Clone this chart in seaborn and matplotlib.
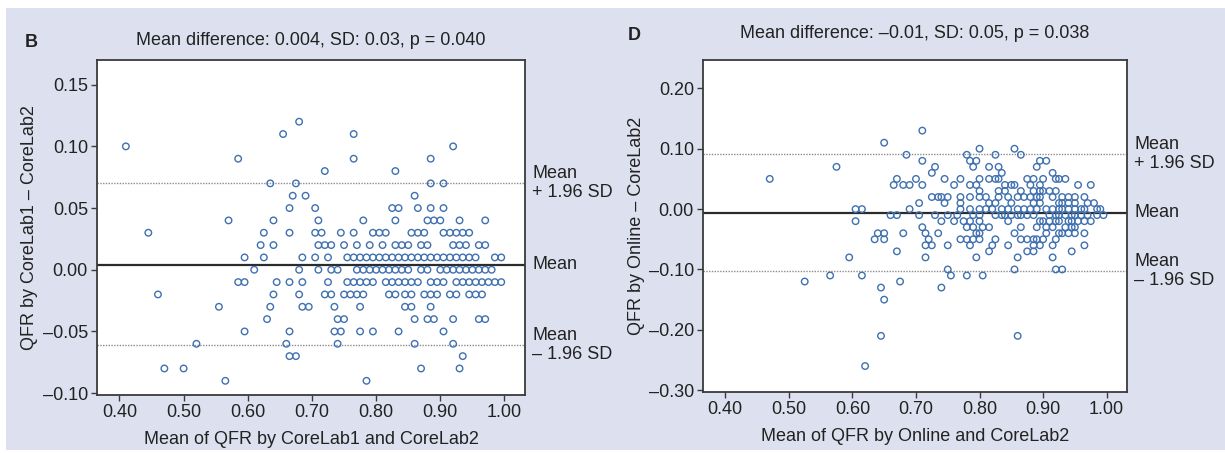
import matplotlib
matplotlib.use("Agg")
import matplotlib.pyplot as plt
import matplotlib.transforms as mtransforms
from matplotlib.patches import Rectangle
import numpy as np
import pandas as pd
import seaborn as sns

# ---- panel B: CoreLab1 vs CoreLab2 (difference level -> mean QFR values) ----
b_levels = [0.12, 0.11, 0.10, 0.09, 0.08, 0.07, 0.06, 0.05, 0.04, 0.03, 0.02, 0.01,
            0.00, -0.01, -0.02, -0.03, -0.04, -0.05, -0.06, -0.07, -0.08, -0.09]
b_means = [
    [0.68],
    [0.655, 0.765],
    [0.41, 0.92],
    [0.585, 0.765, 0.885],
    [0.72, 0.83],
    [0.635, 0.675, 0.885, 0.905],
    [0.67, 0.69, 0.86],
    [0.665, 0.705, 0.825, 0.835, 0.865, 0.885, 0.905],
    [0.57, 0.64, 0.71, 0.78, 0.83, 0.88, 0.89, 0.90, 0.93, 0.97],
    [0.445, 0.625, 0.665, 0.705, 0.715, 0.745, 0.765, 0.795, 0.805, 0.815, 0.855,
     0.865, 0.875, 0.905, 0.915, 0.925, 0.935, 0.945],
    [0.62, 0.64, 0.71, 0.72, 0.73, 0.75, 0.77, 0.79, 0.81, 0.83, 0.84, 0.85, 0.87,
     0.88, 0.92, 0.93, 0.94, 0.96, 0.97],
    [0.595, 0.625, 0.685, 0.705, 0.725, 0.755, 0.765, 0.775, 0.785, 0.795, 0.805,
     0.815, 0.825, 0.835, 0.845, 0.855, 0.865, 0.875, 0.885, 0.895, 0.905, 0.915,
     0.925, 0.935, 0.945, 0.955, 0.985, 0.995],
    [0.61, 0.68, 0.71, 0.73, 0.74, 0.77, 0.78, 0.79, 0.80, 0.81, 0.82, 0.83, 0.84,
     0.85, 0.87, 0.88, 0.90, 0.91, 0.92, 0.93, 0.94, 0.95, 0.96, 0.97, 0.98],
    [0.585, 0.595, 0.645, 0.665, 0.685, 0.725, 0.755, 0.765, 0.775, 0.785, 0.795,
     0.815, 0.825, 0.835, 0.845, 0.855, 0.865, 0.885, 0.895, 0.905, 0.925, 0.935,
     0.945, 0.955, 0.965, 0.975, 0.985, 0.995],
    [0.46, 0.64, 0.68, 0.72, 0.73, 0.75, 0.76, 0.77, 0.78, 0.82, 0.83, 0.845, 0.855,
     0.875, 0.885, 0.895, 0.915, 0.925, 0.945, 0.955, 0.965],
    [0.555, 0.635, 0.685, 0.695, 0.735, 0.775, 0.845, 0.855, 0.885],
    [0.63, 0.74, 0.75, 0.86, 0.88, 0.89, 0.92, 0.96, 0.97],
    [0.595, 0.665, 0.735, 0.745, 0.775, 0.795, 0.835, 0.905],
    [0.52, 0.66, 0.74, 0.86, 0.92],
    [0.665, 0.675, 0.935],
    [0.47, 0.50, 0.87, 0.93],
    [0.565, 0.785],
]
b_lines = [0.070, 0.004, -0.061]   # upper LoA, mean, lower LoA

# ---- panel D: Online vs CoreLab2 ----
d_levels = [0.13, 0.11, 0.10, 0.09, 0.08, 0.07, 0.06, 0.05, 0.04, 0.03, 0.02, 0.01,
            0.00, -0.01, -0.02, -0.03, -0.04, -0.05, -0.06, -0.07, -0.08, -0.10,
            -0.11, -0.12, -0.13, -0.15, -0.21, -0.26]
d_means = [
    [0.71],
    [0.65],
    [0.80, 0.855],
    [0.685, 0.78, 0.825, 0.865],
    [0.71, 0.785, 0.795, 0.895, 0.905],
    [0.575, 0.73, 0.79, 0.815, 0.83, 0.89],
    [0.725, 0.835, 0.915],
    [0.47, 0.67, 0.70, 0.745, 0.77, 0.80, 0.815, 0.825, 0.83, 0.875, 0.885, 0.90,
     0.92, 0.925, 0.935],
    [0.665, 0.68, 0.69, 0.71, 0.76, 0.785, 0.795, 0.84, 0.85, 0.855, 0.88, 0.895,
     0.955, 0.975],
    [0.80, 0.83, 0.84, 0.865, 0.885, 0.895, 0.90, 0.91, 0.92],
    [0.725, 0.735, 0.74, 0.75, 0.77, 0.785, 0.80, 0.81, 0.83, 0.845, 0.86, 0.87,
     0.88, 0.89, 0.895, 0.915, 0.93, 0.94, 0.95, 0.965],
    [0.705, 0.745, 0.77, 0.815, 0.825, 0.85, 0.885, 0.895, 0.925, 0.93, 0.94, 0.95,
     0.97, 0.98],
    [0.605, 0.615, 0.69, 0.77, 0.785, 0.80, 0.81, 0.82, 0.835, 0.845, 0.86, 0.87,
     0.88, 0.89, 0.905, 0.915, 0.925, 0.93, 0.94, 0.95, 0.96, 0.965, 0.985, 0.99],
    [0.66, 0.67, 0.705, 0.73, 0.75, 0.765, 0.79, 0.80, 0.825, 0.835, 0.84, 0.85,
     0.86, 0.865, 0.875, 0.885, 0.91, 0.92, 0.925, 0.935, 0.945, 0.95, 0.96, 0.97,
     0.985, 0.995],
    [0.605, 0.74, 0.76, 0.775, 0.785, 0.80, 0.845, 0.895, 0.90, 0.91, 0.92, 0.925,
     0.94, 0.945, 0.955, 0.965, 0.975],
    [0.71, 0.78, 0.79, 0.805, 0.815, 0.865, 0.89, 0.905, 0.915, 0.935, 0.945, 0.95],
    [0.64, 0.65, 0.68, 0.715, 0.735, 0.795, 0.80, 0.855, 0.905, 0.925, 0.93, 0.94,
     0.95, 0.965],
    [0.635, 0.65, 0.72, 0.77, 0.78, 0.79, 0.80, 0.825, 0.865, 0.875, 0.885, 0.89,
     0.90, 0.92],
    [0.715, 0.725, 0.75, 0.785, 0.82, 0.845, 0.885, 0.895, 0.915, 0.965],
    [0.67, 0.815, 0.875, 0.885, 0.945],
    [0.595, 0.715, 0.795, 0.86, 0.915],
    [0.75, 0.855, 0.92, 0.93],
    [0.565, 0.615, 0.755, 0.78, 0.805],
    [0.525, 0.675],
    [0.645, 0.74],
    [0.65],
    [0.645, 0.86],
    [0.62],
]
d_lines = [0.091, -0.006, -0.102]

x_ticks = [0.40, 0.50, 0.60, 0.70, 0.80, 0.90, 1.00]
b_yticks = [0.15, 0.10, 0.05, 0.00, -0.05, -0.10]
d_yticks = [0.20, 0.10, 0.00, -0.10, -0.20, -0.30]


def to_frame(levels, means):
    rows = []
    for lvl, xs in zip(levels, means):
        for x in xs:
            rows.append({"mean": x, "diff": lvl})
    return pd.DataFrame(rows)


def dash(v):
    s = "{:.2f}".format(abs(v))
    return ("\u2013" + s) if v < -1e-9 else s


sns.set_style("ticks")
plt.rcParams["font.family"] = ["Liberation Sans", "DejaVu Sans"]
FS = 13
BG = "#dde1ef"
BLUE = "#3f70b0"
SPINE = "#3a3a3a"
TXT = "#222222"

fig = plt.figure(figsize=(12.25, 4.53), dpi=100)
fig.patch.set_facecolor("white")
fig.patches.append(Rectangle((6 / 1225, 3 / 453), 1, 1 - 11 / 453, transform=fig.transFigure,
                             facecolor=BG, edgecolor="none", zorder=-10))

ax_b = fig.add_axes([97 / 1225, 1 - 395 / 453, 428 / 1225, 335 / 453])
ax_d = fig.add_axes([703 / 1225, 1 - 392 / 453, 424 / 1225, 332 / 453])

panels = [
    (ax_b, to_frame(b_levels, b_means), b_lines, b_yticks, (-0.1015, 0.170),
     "Mean difference: 0.004, SD: 0.03, p = 0.040",
     "QFR by CoreLab1 \u2013 CoreLab2", "Mean of QFR by CoreLab1 and CoreLab2", 11),
    (ax_d, to_frame(d_levels, d_means), d_lines, d_yticks, (-0.303, 0.247),
     "Mean difference: \u20130.01, SD: 0.05, p = 0.038",
     "QFR by Online \u2013 CoreLab2", "Mean of QFR by Online and CoreLab2", 16),
]

for ax, df, lines, yticks, ylim, title, ylab, xlab, tpad in panels:
    ax.set_facecolor("white")
    sns.scatterplot(data=df, x="mean", y="diff", ax=ax, s=22, marker="o",
                    facecolor="none", edgecolor=BLUE, linewidth=1.0, zorder=3)
    up, mid, lo = lines
    ax.axhline(up, color="#8c8c8c", lw=1.0, ls=(0, (1, 1)), zorder=2)
    ax.axhline(lo, color="#8c8c8c", lw=1.0, ls=(0, (1, 1)), zorder=2)
    ax.axhline(mid, color="#2b2b2b", lw=1.6, zorder=2)

    ax.set_xlim(0.365, 1.032)
    ax.set_ylim(*ylim)
    ax.set_xticks(x_ticks)
    ax.set_xticklabels(["{:.2f}".format(t) for t in x_ticks])
    ax.set_yticks(yticks)
    ax.set_yticklabels([dash(t) for t in yticks])
    ax.tick_params(direction="out", length=4.5, width=1.0, color=SPINE,
                   labelsize=FS, labelcolor=TXT, pad=2)
    for sp in ax.spines.values():
        sp.set_visible(True)
        sp.set_color(SPINE)
        sp.set_linewidth(1.3)

    ax.set_xlabel(xlab, fontsize=FS, color=TXT)
    ax.set_ylabel(ylab, fontsize=FS, color=TXT)
    ax.xaxis.set_label_coords(0.5, -0.107)
    ax.yaxis.set_label_coords(-0.137, 0.5)
    ax.set_title(title, fontsize=FS, color=TXT, pad=tpad)

    trans = mtransforms.blended_transform_factory(ax.transAxes, ax.transData)
    ax.text(1.017, up, "Mean\n+ 1.96 SD", transform=trans, ha="left", va="center",
            fontsize=FS, color=TXT, linespacing=1.15)
    ax.text(1.017, mid, "Mean", transform=trans, ha="left", va="center",
            fontsize=FS, color=TXT)
    ax.text(1.017, lo, "Mean\n\u2013 1.96 SD", transform=trans, ha="left", va="center",
            fontsize=FS, color=TXT, linespacing=1.15)

fig.text(31 / 1225, 1 - 47 / 453, "B", fontsize=FS, fontweight="bold", color=TXT,
         va="baseline", ha="center")
fig.text(634 / 1225, 1 - 40 / 453, "D", fontsize=FS, fontweight="bold", color=TXT,
         va="baseline", ha="center")

fig.savefig("out.png", dpi=100, facecolor=fig.get_facecolor())
